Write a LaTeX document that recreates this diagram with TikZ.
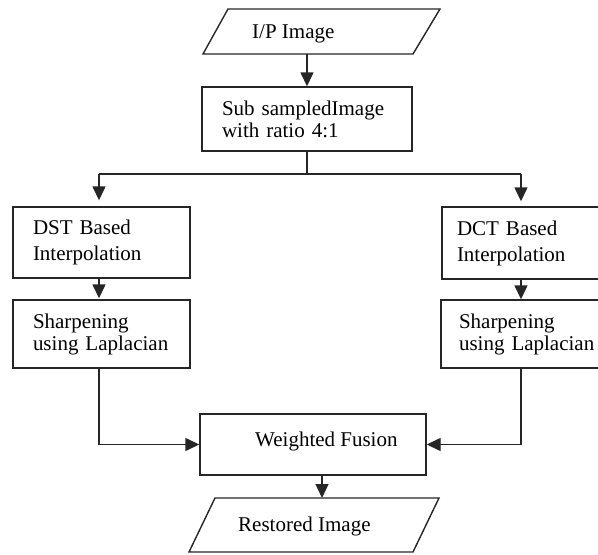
\documentclass[tikz,border=0pt]{standalone}
\usepackage{fontspec}
\setmainfont{Liberation Serif}
\usetikzlibrary{arrows.meta}
\begin{document}
\begin{tikzpicture}[x=1pt,y=-1pt,
  line/.style={draw=black!85,line width=1.4pt},
  arr/.style={line,-{Triangle[length=14pt,width=13pt]}},
  box/.style={line,rectangle,fill=white,inner ysep=0pt,align=left,font=\fontsize{21}{26}\selectfont},
  txt/.style={anchor=base west,inner sep=0pt,font=\fontsize{21}{24}\selectfont}]
\useasboundingbox (0,0) rectangle (598,555);
% input parallelogram
\draw[line,line join=miter] (203,54) -- (228,9) -- (440,9) -- (413,54) -- cycle;
\coordinate (in) at (307,54);
\node[txt] (intext) at (252,38) {I/P Image};
% boxes
\node[box,text width=170pt,inner xsep=20pt,minimum height=64pt,font=\fontsize{21}{22}\selectfont] (sub) at (307,119) {Sub sampledImage\\with ratio 4:1};
\node[box,text width=137pt,inner xsep=20pt,minimum height=71pt] (dst) at (101.5,242.5) {DST Based\\Interpolation};
\node[box,text width=137pt,inner xsep=20pt,minimum height=68pt,font=\fontsize{21}{22}\selectfont] (dstsh) at (101.5,334) {Sharpening\\using Laplacian};
\node[box,text width=147pt,inner xsep=15pt,minimum height=72pt] (dct) at (530.5,243) {DCT Based\\Interpolation};
\node[box,text width=141pt,inner xsep=18pt,minimum height=68pt,font=\fontsize{21}{22}\selectfont] (dctsh) at (529.5,334) {Sharpening\\using Laplacian};
\node[line,rectangle,minimum width=226pt,minimum height=61pt,inner sep=0pt] (wf) at (313,444.5) {};
\node[txt] (wftext) at (255,446) {Weighted Fusion};
% output parallelogram
\draw[line,line join=miter] (189,552) -- (215,498) -- (439,498) -- (413,552) -- cycle;
\coordinate (rest) at (322,498);
\node[txt] (resttext) at (238,531) {Restored Image};
% connectors
\coordinate (sl) at (99,174);
\coordinate (sr) at (521,174);
\draw[arr] (in) -- (in |- sub.north);
\draw[line] (sub.south) -- (sub.south |- sl);
\draw[line] (sl) -- (sr);
\draw[arr,shorten >=6pt] (sl) -- (sl |- dst.north);
\draw[arr,shorten >=5pt] (sr) -- (sr |- dct.north);
\draw[arr,shorten >=1pt] (dst.south -| sl) -- (dstsh.north -| sl);
\draw[arr] (dct.south -| sr) -- (dctsh.north -| sr);
\draw[arr] (dstsh.south -| sl) |- (wf.west);
\draw[arr] (dctsh.south -| sr) |- (wf.east);
\draw[arr] (wf.south -| rest) -- (rest);
\end{tikzpicture}
\end{document}
